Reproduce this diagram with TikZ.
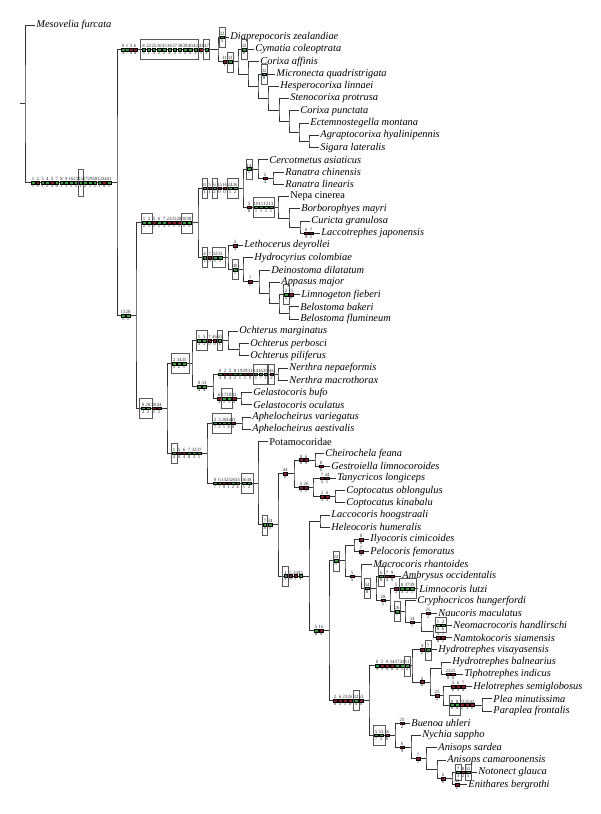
\documentclass[tikz,border=0pt]{standalone}
\usepackage{fontspec}
\setmainfont{Liberation Serif}
\definecolor{synap}{RGB}{62,158,62}
\definecolor{homop}{RGB}{138,30,38}
\tikzset{
  br/.style={draw=black!80, line width=0.8pt},
  taxon/.style={anchor=west, inner sep=1.2pt, font=\fontsize{10.4}{12}\selectfont\itshape},
  taxonup/.style={taxon, font=\fontsize{10.4}{12}\selectfont\upshape},
  mk/.style={rectangle, draw=black, line width=0.25pt, minimum width=3.4pt, minimum height=2.6pt, inner sep=0pt, label distance=0.3pt},
  cnum/.style={font=\fontsize{4.8}{4.8}\selectfont, inner sep=0.2pt, text=black!85, fill=none},
  cbox/.style={draw=black!65, line width=0.35pt}
}
% character change on a branch: x, y, character, state
\newcommand{\mkg}[4]{\node[mk, fill=synap, label={[cnum]90:#3}, label={[cnum]-90:#4}] at (#1,#2) {};}
\newcommand{\mkr}[4]{\node[mk, fill=homop, label={[cnum]90:#3}, label={[cnum]-90:#4}] at (#1,#2) {};}
\newcommand{\cbx}[3]{\draw[cbox] (#1,#3-10) rectangle (#2,#3+10);}
\begin{document}
\begin{tikzpicture}[x=1pt, y=-1pt]
  \useasboundingbox (0,0) rectangle (600,814);
  % taxa
  \node[taxon] (t1) at (35,25) {Mesovelia furcata};
  \node[taxon] (t2) at (229,37.25) {Diaprepocoris zealandiae};
  \node[taxon] (t3) at (254,49.5) {Cymatia coleoptrata};
  \node[taxon] (t4) at (259,61.75) {Corixa affinis};
  \node[taxon] (t5) at (275,74) {Micronecta quadristrigata};
  \node[taxon] (t6) at (279,86.25) {Hesperocorixa linnaei};
  \node[taxon] (t7) at (289,98.5) {Stenocorixa protrusa};
  \node[taxon] (t8) at (299,110.75) {Corixa punctata};
  \node[taxon] (t9) at (309,123) {Ectemnostegella montana};
  \node[taxon] (t10) at (319,135.25) {Agraptocorixa hyalinipennis};
  \node[taxon] (t11) at (319,147.5) {Sigara lateralis};
  \node[taxon] (t12) at (268,159.75) {Cercotmetus asiaticus};
  \node[taxon] (t13) at (284,172) {Ranatra chinensis};
  \node[taxon] (t14) at (284,184.25) {Ranatra linearis};
  \node[taxonup] (t15) at (289,196.5) {Nepa cinerea};
  \node[taxon] (t16) at (300,208.75) {Borborophyes mayri};
  \node[taxon] (t17) at (310,221) {Curicta granulosa};
  \node[taxon] (t18) at (320,233.25) {Laccotrephes japonensis};
  \node[taxon] (t19) at (243,245.5) {Lethocerus deyrollei};
  \node[taxon] (t20) at (253,257.75) {Hydrocyrius colombiae};
  \node[taxon] (t21) at (270,270) {Deinostoma dilatatum};
  \node[taxon] (t22) at (280,282.25) {Appasus major};
  \node[taxon] (t23) at (300,294.5) {Limnogeton fieberi};
  \node[taxon] (t24) at (299,306.75) {Belostoma bakeri};
  \node[taxon] (t25) at (299,319) {Belostoma flumineum};
  \node[taxon] (t26) at (238,331.25) {Ochterus marginatus};
  \node[taxon] (t27) at (249,343.5) {Ochterus perbosci};
  \node[taxon] (t28) at (249,355.75) {Ochterus piliferus};
  \node[taxon] (t29) at (288,368) {Nerthra nepaeformis};
  \node[taxon] (t30) at (288,380.25) {Nerthra macrothorax};
  \node[taxon] (t31) at (252,392.5) {Gelastocoris bufo};
  \node[taxon] (t32) at (252,404.75) {Gelastocoris oculatus};
  \node[taxon] (t33) at (251,417) {Aphelocheirus variegatus};
  \node[taxon] (t34) at (251,429.25) {Aphelocheirus aestivalis};
  \node[taxonup] (t35) at (268,441.5) {Potamocoridae};
  \node[taxon] (t36) at (324,453.75) {Cheirochela feana};
  \node[taxon] (t37) at (330,466) {Gestroiella limnocoroides};
  \node[taxon] (t38) at (336,478.25) {Tanycricos longiceps};
  \node[taxon] (t39) at (345,490.5) {Coptocatus oblongulus};
  \node[taxon] (t40) at (345,502.75) {Coptocatus kinabalu};
  \node[taxon] (t41) at (330,515) {Laccocoris hoogstraali};
  \node[taxon] (t42) at (330,527.25) {Heleocoris humeralis};
  \node[taxon] (t43) at (369,539.5) {Ilyocoris cimicoides};
  \node[taxon] (t44) at (369,551.75) {Pelocoris femoratus};
  \node[taxon] (t45) at (372,564) {Macrocoris rhantoides};
  \node[taxon] (t46) at (401,576.25) {Ambrysus occidentalis};
  \node[taxon] (t47) at (418,588.5) {Limnocoris lutzi};
  \node[taxon] (t48) at (416,600.75) {Cryphocricos hungerfordi};
  \node[taxon] (t49) at (437,613) {Naucoris maculatus};
  \node[taxon] (t50) at (452,625.25) {Neomacrocoris handlirschi};
  \node[taxon] (t51) at (452,637.5) {Namtokocoris siamensis};
  \node[taxon] (t52) at (437,649.75) {Hydrotrephes visayasensis};
  \node[taxon] (t53) at (451,662) {Hydrotrephes balnearius};
  \node[taxon] (t54) at (463,674.25) {Tiphotrephes indicus};
  \node[taxon] (t55) at (472,686.5) {Helotrephes semiglobosus};
  \node[taxon] (t56) at (492,698.75) {Plea minutissima};
  \node[taxon] (t57) at (492,711) {Paraplea frontalis};
  \node[taxon] (t58) at (410,723.25) {Buenoa uhleri};
  \node[taxon] (t59) at (421,735.5) {Nychia sappho};
  \node[taxon] (t60) at (437,747.75) {Anisops sardea};
  \node[taxon] (t61) at (446,760) {Anisops camaroonensis};
  \node[taxon] (t62) at (477,772.25) {Notonect glauca};
  \node[taxon] (t63) at (467,784.5) {Enithares bergrothi};
  % internal nodes
  \coordinate (stub) at (20,103.75);
  \coordinate (root) at (25,103.75);
  \coordinate (ing) at (117,182.5);
  \coordinate (c1) at (218,49.48);
  \coordinate (c2) at (238,61.7);
  \coordinate (c3) at (248,73.9);
  \coordinate (c4) at (258,86.06);
  \coordinate (c5) at (268,98.12);
  \coordinate (c6) at (279,109.98);
  \coordinate (c7) at (289,121.47);
  \coordinate (c8) at (299,132.19);
  \coordinate (c9) at (309,141.38);
  \coordinate (n136) at (136,315.5);
  \coordinate (nepo) at (198,222.8);
  \coordinate (nep1) at (243,188.1);
  \coordinate (ran1) at (258,168.9);
  \coordinate (ran2) at (273,178.1);
  \coordinate (nep2) at (278,207.2);
  \coordinate (nep3) at (289,217.9);
  \coordinate (nep4) at (300,227.1);
  \coordinate (bel0) at (228,257.6);
  \coordinate (bel1) at (243,269.6);
  \coordinate (bel2) at (259,281.5);
  \coordinate (bel3) at (269,293);
  \coordinate (bel4) at (279,303.7);
  \coordinate (bel5) at (289,312.9);
  \coordinate (geo) at (167,408.3);
  \coordinate (ocht) at (192,363.4);
  \coordinate (och1) at (228,340.4);
  \coordinate (och2) at (239,349.6);
  \coordinate (gelo) at (213,386.4);
  \coordinate (ner) at (278,374.1);
  \coordinate (gel) at (241,398.6);
  \coordinate (aphp) at (207,453.1);
  \coordinate (aph) at (242,423.1);
  \coordinate (pot) at (258,483.1);
  \coordinate (nauc0) at (278,524.8);
  \coordinate (cry) at (294,473.6);
  \coordinate (che) at (315,459.9);
  \coordinate (tan) at (313,487.4);
  \coordinate (cop) at (335,496.6);
  \coordinate (nauc) at (309,575.9);
  \coordinate (lac) at (320,521.1);
  \coordinate (nplus) at (329,630.6);
  \coordinate (ncr) at (345,560.8);
  \coordinate (ily) at (354,545.6);
  \coordinate (mac) at (361,576.1);
  \coordinate (amb) at (376,588.1);
  \coordinate (lim) at (390,600);
  \coordinate (cyp) at (405,611.5);
  \coordinate (nau) at (421,622.2);
  \coordinate (nam) at (433,631.4);
  \coordinate (ple) at (369,700.5);
  \coordinate (hel0) at (412,665.8);
  \coordinate (hel1) at (430,681.9);
  \coordinate (hyb) at (441,668.1);
  \coordinate (hel2) at (443,695.7);
  \coordinate (pleid) at (482,704.9);
  \coordinate (not0) at (395,735.1);
  \coordinate (not1) at (411,747);
  \coordinate (not2) at (426,758.5);
  \coordinate (not3) at (437,769.2);
  \coordinate (not4) at (452,778.4);
  % branches
  \draw[br] (stub) -- (root);
  \draw[br] (t1) -| (root) |- (ing);
  \draw[br] (c1) -| (ing) |- (n136);
  \draw[br] (t2) -| (c1) |- (c2);
  \draw[br] (t3) -| (c2) |- (c3);
  \draw[br] (t4) -| (c3) |- (c4);
  \draw[br] (t5) -| (c4) |- (c5);
  \draw[br] (t6) -| (c5) |- (c6);
  \draw[br] (t7) -| (c6) |- (c7);
  \draw[br] (t8) -| (c7) |- (c8);
  \draw[br] (t9) -| (c8) |- (c9);
  \draw[br] (t10) -| (c9) |- (t11);
  \draw[br] (nepo) -| (n136) |- (geo);
  \draw[br] (nep1) -| (nepo) |- (bel0);
  \draw[br] (ran1) -| (nep1) |- (nep2);
  \draw[br] (t12) -| (ran1) |- (ran2);
  \draw[br] (t13) -| (ran2) |- (t14);
  \draw[br] (t15) -| (nep2) |- (nep3);
  \draw[br] (t16) -| (nep3) |- (nep4);
  \draw[br] (t17) -| (nep4) |- (t18);
  \draw[br] (t19) -| (bel0) |- (bel1);
  \draw[br] (t20) -| (bel1) |- (bel2);
  \draw[br] (t21) -| (bel2) |- (bel3);
  \draw[br] (t22) -| (bel3) |- (bel4);
  \draw[br] (t23) -| (bel4) |- (bel5);
  \draw[br] (t24) -| (bel5) |- (t25);
  \draw[br] (ocht) -| (geo) |- (aphp);
  \draw[br] (och1) -| (ocht) |- (gelo);
  \draw[br] (t26) -| (och1) |- (och2);
  \draw[br] (t27) -| (och2) |- (t28);
  \draw[br] (ner) -| (gelo) |- (gel);
  \draw[br] (t29) -| (ner) |- (t30);
  \draw[br] (t31) -| (gel) |- (t32);
  \draw[br] (aph) -| (aphp) |- (pot);
  \draw[br] (t33) -| (aph) |- (t34);
  \draw[br] (t35) -| (pot) |- (nauc0);
  \draw[br] (cry) -| (nauc0) |- (nauc);
  \draw[br] (che) -| (cry) |- (tan);
  \draw[br] (t36) -| (che) |- (t37);
  \draw[br] (t38) -| (tan) |- (cop);
  \draw[br] (t39) -| (cop) |- (t40);
  \draw[br] (lac) -| (nauc) |- (nplus);
  \draw[br] (t41) -| (lac) |- (t42);
  \draw[br] (ncr) -| (nplus) |- (ple);
  \draw[br] (ily) -| (ncr) |- (mac);
  \draw[br] (t43) -| (ily) |- (t44);
  \draw[br] (t45) -| (mac) |- (amb);
  \draw[br] (t46) -| (amb) |- (lim);
  \draw[br] (t47) -| (lim) |- (cyp);
  \draw[br] (t48) -| (cyp) |- (nau);
  \draw[br] (t49) -| (nau) |- (nam);
  \draw[br] (t50) -| (nam) |- (t51);
  \draw[br] (hel0) -| (ple) |- (not0);
  \draw[br] (t52) -| (hel0) |- (hel1);
  \draw[br] (hyb) -| (hel1) |- (hel2);
  \draw[br] (t53) -| (hyb) |- (t54);
  \draw[br] (t55) -| (hel2) |- (pleid);
  \draw[br] (t56) -| (pleid) |- (t57);
  \draw[br] (t58) -| (not0) |- (not1);
  \draw[br] (t59) -| (not1) |- (not2);
  \draw[br] (t60) -| (not2) |- (not3);
  \draw[br] (t61) -| (not3) |- (not4);
  \draw[br] (t62) -| (not4) |- (t63);
  % character changes
  \draw[cbox] (78,169.5) rectangle (83,196);
  \mkg{33}{182.5}{1}{1} \mkr{37.75}{182.5}{2}{9} \mkg{42.5}{182.5}{3}{1} \mkg{47.25}{182.5}{4}{2}
  \mkr{52}{182.5}{5}{3} \mkg{56.75}{182.5}{7}{6} \mkg{61.5}{182.5}{8}{1} \mkg{66.25}{182.5}{9}{1}
  \mkg{71}{182.5}{16}{1} \mkg{75.75}{182.5}{23}{3} \mkg{80.5}{182.5}{25}{1} \mkg{85.25}{182.5}{27}{2}
  \mkg{90}{182.5}{29}{1} \mkg{94.75}{182.5}{30}{2} \mkg{99.5}{182.5}{32}{1} \mkr{104.25}{182.5}{34}{8}
  \mkg{109}{182.5}{41}{1}
  \mkg{123}{49.48}{0}{4} \mkg{127}{49.48}{1}{7} \mkr{131}{49.48}{3}{4} \mkr{135}{49.48}{6}{8}
  \cbx{140}{198}{49.48}
  \mkg{143.5}{49.48}{8}{5} \mkg{148.7}{49.48}{22}{1} \mkg{153.9}{49.48}{25}{3} \mkg{159.1}{49.48}{30}{2}
  \mkg{164.3}{49.48}{35}{2} \mkg{169.5}{49.48}{36}{4} \mkg{174.7}{49.48}{37}{5} \mkg{179.9}{49.48}{38}{3}
  \mkg{185.1}{49.48}{39}{2} \mkg{190.3}{49.48}{40}{2} \mkg{195.5}{49.48}{42}{2}
  \mkr{201}{49.48}{43}{1} \cbx{203.5}{209.5}{49.48} \mkg{206.5}{49.48}{47}{1}
  \cbx{219}{225}{37.25} \mkg{222}{37.25}{32}{5}
  \mkr{224.5}{61.7}{31}{1} \cbx{227}{233}{61.7} \mkg{230}{61.7}{32}{7}
  \cbx{241}{247}{49.5} \mkg{244}{49.5}{32}{8}
  \cbx{261}{267}{74} \mkg{264}{74}{32}{8}
  % Nepoidea
  \cbx{141}{152}{222.8} \mkg{144}{222.8}{1}{2} \mkg{149}{222.8}{2}{1}
  \mkr{154}{222.8}{5}{1} \mkg{159}{222.8}{6}{1} \mkg{164}{222.8}{7}{3} \mkr{169}{222.8}{23}{1}
  \mkr{174}{222.8}{25}{1} \mkr{179}{222.8}{28}{1}
  \cbx{181.5}{192.5}{222.8} \mkg{184}{222.8}{30}{1} \mkg{189}{222.8}{38}{1}
  \cbx{202}{207}{188.1} \mkg{204.5}{188.1}{0}{1} \mkr{209.5}{188.1}{5}{1}
  \cbx{212}{217}{188.1} \mkg{214.5}{188.1}{6}{2} \mkr{219.5}{188.1}{15}{0} \mkr{224.5}{188.1}{16}{0}
  \cbx{227}{238}{188.1} \mkg{230}{188.1}{24}{1} \mkg{235}{188.1}{36}{2}
  \cbx{246}{252}{168.9} \mkg{249}{168.9}{14}{1}
  \mkr{265}{178.1}{5}{4}
  \mkr{249}{207.2}{5}{8} \cbx{253}{274}{207.2}
  \mkg{256}{207.2}{10}{1} \mkg{261}{207.2}{11}{1} \mkg{266}{207.2}{12}{1} \mkg{271}{207.2}{13}{1}
  \mkr{306}{233.25}{6}{9} \mkr{311}{233.25}{7}{1}
  \cbx{202}{207}{257.6} \mkg{204.5}{257.6}{4}{1} \mkr{209.5}{257.6}{7}{3}
  \cbx{212}{225}{257.6} \mkg{215}{257.6}{32}{1} \mkg{220}{257.6}{33}{1}
  \mkr{235}{245.5}{5}{5}
  \cbx{232}{238}{269.6} \mkg{235}{269.6}{40}{1}
  \mkr{250}{281.5}{7}{1}
  \cbx{283}{289}{294.5} \mkg{286}{294.5}{2}{2} \mkr{291}{294.5}{15}{0}
  % lower clades
  \mkg{123}{315.5}{15}{1} \mkg{128}{315.5}{28}{1}
  \cbx{139}{152}{408.3} \mkg{143}{408.3}{0}{3} \mkg{148}{408.3}{28}{2}
  \mkr{154}{408.3}{30}{1} \mkr{159}{408.3}{44}{1}
  \cbx{171}{189}{363.4} \mkg{174}{363.4}{2}{3} \mkg{179}{363.4}{34}{2} \mkg{184}{363.4}{35}{1}
  \cbx{196}{207}{340.4} \mkg{199}{340.4}{1}{3} \mkg{204}{340.4}{5}{3}
  \mkr{209.5}{340.4}{7}{0} \mkr{214.5}{340.4}{46}{0}
  \cbx{217}{222}{340.4} \mkg{219.5}{340.4}{50}{1}
  \mkg{199}{386.4}{0}{4} \mkg{204}{386.4}{33}{4}
  \mkg{220}{374.1}{0}{3} \mkr{225}{374.1}{2}{8} \mkr{230}{374.1}{5}{4} \mkg{235}{374.1}{8}{2}
  \mkg{240}{374.1}{19}{1} \mkr{245}{374.1}{29}{1} \mkr{250}{374.1}{31}{0}
  \cbx{253}{267}{374.1} \mkg{255.5}{374.1}{34}{3} \mkg{260.5}{374.1}{36}{7} \mkg{265.5}{374.1}{39}{1}
  \cbx{268.5}{274.5}{374.1} \mkr{271.5}{374.1}{46}{2}
  \mkr{219}{398.6}{6}{3} \cbx{221.5}{232}{398.6} \mkg{224}{398.6}{17}{1} \mkg{229}{398.6}{18}{1}
  \mkr{234}{398.6}{33}{3}
  \cbx{171}{177}{453.1} \mkg{174}{453.1}{1}{4} \mkr{179}{453.1}{5}{4} \mkr{184}{453.1}{6}{4}
  \mkg{189}{453.1}{7}{8} \mkg{194}{453.1}{32}{3} \mkg{199}{453.1}{37}{1}
  \cbx{212}{231.5}{423.1} \mkg{215}{423.1}{2}{7} \mkg{219.5}{423.1}{3}{2} \mkg{224}{423.1}{20}{1}
  \mkg{228.5}{423.1}{34}{4} \mkr{233}{423.1}{41}{0}
  \mkg{215}{483.1}{0}{7} \mkg{219.5}{483.1}{6}{7} \mkr{224}{483.1}{15}{0} \mkr{228.5}{483.1}{25}{1}
  \mkg{233}{483.1}{26}{2} \mkg{237.5}{483.1}{35}{4}
  \cbx{241.5}{253}{483.1} \mkg{244}{483.1}{36}{1} \mkg{249}{483.1}{38}{2}
  \cbx{262}{267.5}{524.8} \mkg{264.7}{524.8}{7}{8} \mkg{270}{524.8}{34}{5}
  \mkr{285}{473.6}{44}{0}
  \mkr{301}{459.9}{0}{6} \mkr{306}{459.9}{6}{9}
  \mkr{321}{466}{8}{0}
  \mkr{301}{487.4}{5}{1} \mkr{306}{487.4}{26}{1}
  \mkr{322}{478.25}{7}{5} \mkr{327}{478.25}{44}{1}
  \mkr{322}{496.6}{2}{5} \mkr{327}{496.6}{6}{3}
  \cbx{282.5}{288.5}{575.9} \mkg{285.5}{575.9}{1}{2} \mkr{290.5}{575.9}{5}{5}
  \mkr{295.5}{575.9}{34}{7} \mkg{300.5}{575.9}{45}{1}
  \mkg{316}{630.6}{5}{8} \mkr{321}{630.6}{16}{9}
  \cbx{333}{339}{560.8} \mkg{336}{560.8}{22}{1}
  \mkr{361}{539.5}{0}{6}
  \mkr{361}{551.75}{7}{5}
  \mkr{352}{576.1}{5}{5}
  \cbx{364}{370}{588.1} \mkg{367}{588.1}{34}{8}
  \cbx{378.5}{384}{576.25} \mkg{381}{576.25}{6}{8} \mkr{387}{576.25}{7}{4} \mkr{392}{576.25}{9}{0}
  \mkr{383}{600}{28}{1}
  \mkr{396}{588.5}{5}{3} \cbx{399}{416}{588.5}
  \mkg{402}{588.5}{8}{5} \mkg{407}{588.5}{37}{2} \mkg{412}{588.5}{39}{1}
  \cbx{394}{400}{611.5} \mkg{397}{611.5}{26}{7}
  \mkr{412}{622.2}{34}{7}
  \mkr{428}{613}{25}{2}
  \draw[cbox] (435,617.5) rectangle (446,632.5);
  \mkg{438}{625.25}{1}{6} \mkg{443}{625.25}{2}{6}
  \mkr{438}{637.5}{5}{8} \mkr{443}{637.5}{7}{1}
  \mkr{335}{700.5}{2}{8} \mkr{340}{700.5}{6}{5} \mkr{345}{700.5}{23}{1} \mkr{350}{700.5}{26}{0}
  \cbx{353}{359}{700.5} \mkg{356}{700.5}{32}{4} \mkr{361}{700.5}{53}{0}
  \mkg{377}{665.8}{0}{9} \mkr{382}{665.8}{2}{9} \mkr{387}{665.8}{9}{0} \mkr{392}{665.8}{34}{8}
  \mkg{397}{665.8}{37}{4} \mkg{402}{665.8}{43}{1}
  \cbx{404}{410}{665.8} \mkg{407}{665.8}{51}{3}
  \mkr{422}{649.75}{4}{2} \cbx{425}{431}{649.75} \mkg{428}{649.75}{7}{7}
  \mkr{422}{681.9}{6}{8}
  \mkr{448}{674.25}{23}{0} \mkr{453}{674.25}{25}{0}
  \mkr{437}{695.7}{25}{2}
  \mkr{453}{686.5}{5}{8} \mkr{458}{686.5}{6}{5} \mkr{463}{686.5}{7}{4}
  \cbx{449}{460}{704.9} \mkg{452}{704.9}{0}{8} \mkg{457}{704.9}{8}{4}
  \mkr{462}{704.9}{23}{2} \mkr{467}{704.9}{35}{3} \mkr{472}{704.9}{42}{0}
  \cbx{373}{385}{735.1} \mkg{376}{735.1}{5}{7} \mkg{381}{735.1}{53}{5} \mkr{387}{735.1}{56}{0}
  \mkr{402}{723.25}{25}{2}
  \mkr{402}{747}{6}{9}
  \mkr{418}{758.5}{7}{1}
  \mkr{443}{778.4}{6}{6}
  \draw[cbox] (455,764) rectangle (461,780.5);
  \draw[cbox] (465,764) rectangle (471,780.5);
  \mkg{458}{772.25}{7}{3} \mkr{463}{772.25}{8}{2} \mkg{468}{772.25}{52}{5}
  \mkr{457}{784.5}{32}{2}
\end{tikzpicture}
\end{document}
